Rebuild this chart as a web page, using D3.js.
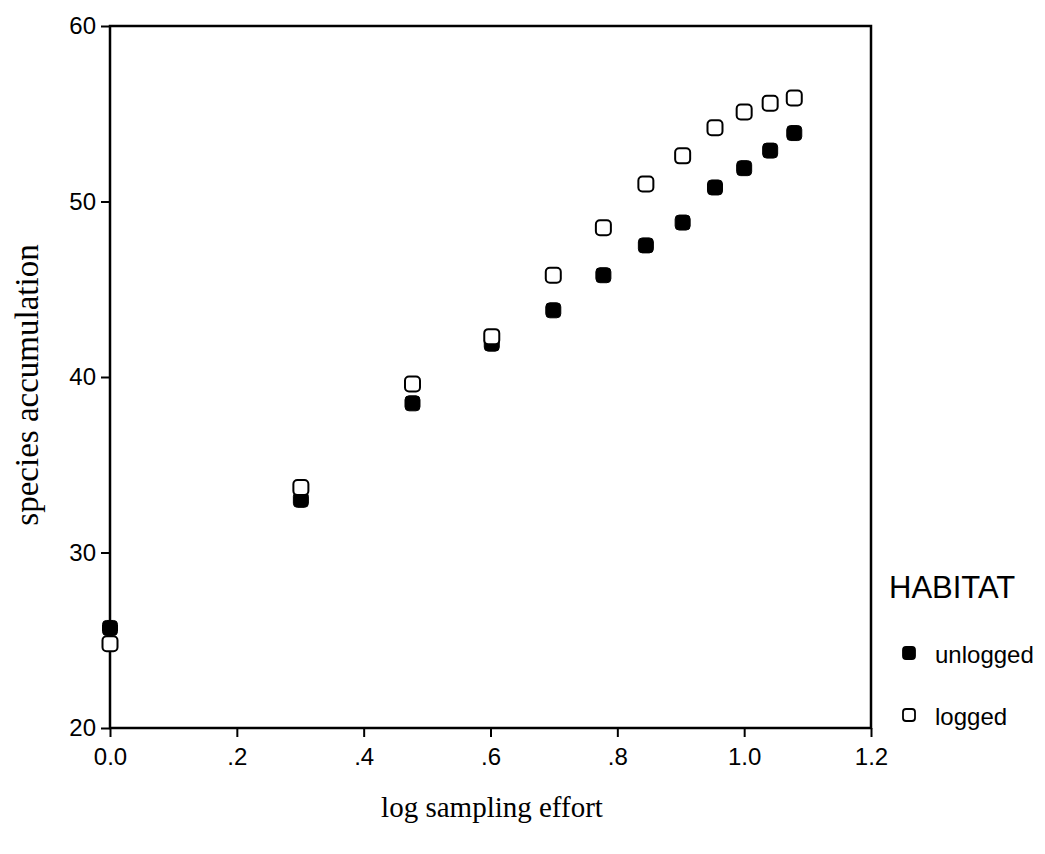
<html>
  <head>
    <script src="https://d3js.org/d3.v7.min.js"></script>
    <style>
      body { margin: 0; background: white; }
    </style>
  </head>
  <body>
    <svg id="chart" width="1045" height="854"></svg>
    <script>
      // log sampling effort (x) and species accumulation per habitat
      const effort = [0, 0.301, 0.477, 0.602, 0.699, 0.778, 0.845, 0.903, 0.954, 1.0, 1.041, 1.079];
      const unlogged = [25.7, 33.0, 38.5, 41.9, 43.8, 45.8, 47.5, 48.8, 50.8, 51.9, 52.9, 53.9];
      const logged = [24.8, 33.7, 39.6, 42.3, 45.8, 48.5, 51.0, 52.6, 54.2, 55.1, 55.6, 55.9];
      const xTicks = [0, 0.2, 0.4, 0.6, 0.8, 1.0, 1.2];
      const xTickLabels = ["0.0", ".2", ".4", ".6", ".8", "1.0", "1.2"];
      const yTicks = [20, 30, 40, 50, 60];
      const habitats = ["unlogged", "logged"];

      const svg = d3.select("#chart");
      const plotL = 110, plotR = 871, plotT = 26, plotB = 728;

      const x = d3.scaleLinear().domain([0, 1.2]).range([plotL, plotR]);
      const y = d3.scaleLinear().domain([20, 60]).range([plotB, plotT]);

      // frame
      svg.append("rect")
        .attr("x", plotL).attr("y", plotT)
        .attr("width", plotR - plotL).attr("height", plotB - plotT)
        .style("fill", "none").style("stroke", "black").style("stroke-width", 2.5);

      // axes
      const xAxis = d3.axisBottom(x).tickValues(xTicks)
        .tickFormat((d, i) => xTickLabels[i]).tickSize(9).tickPadding(11);
      const yAxis = d3.axisLeft(y).tickValues(yTicks).tickSize(9).tickPadding(5);

      const gx = svg.append("g").attr("transform", `translate(0,${plotB})`).call(xAxis);
      const gy = svg.append("g").attr("transform", `translate(${plotL},0)`).call(yAxis);

      [gx, gy].forEach((g) => {
        g.select(".domain").remove();
        g.selectAll("line").style("stroke", "black").style("stroke-width", 2);
        g.selectAll("text")
          .style("font-family", "Liberation Sans, Arial, sans-serif")
          .style("font-size", "24px")
          .style("fill", "black");
      });
      gy.selectAll("text").attr("dy", "0.33em");

      // axis titles
      svg.append("text")
        .attr("x", 492).attr("y", 817)
        .attr("text-anchor", "middle")
        .style("font-family", "Liberation Serif, Times New Roman, serif")
        .style("font-size", "29px")
        .text("log sampling effort");

      svg.append("text")
        .attr("transform", `translate(38,385) rotate(-90)`)
        .attr("text-anchor", "middle")
        .style("font-family", "Liberation Serif, Times New Roman, serif")
        .style("font-size", "33px")
        .text("species accumulation");

      // markers
      const size = 15;
      function drawSeries(vals, filled) {
        svg.append("g").selectAll("rect")
          .data(vals)
          .join("rect")
          .attr("x", (d, i) => x(effort[i]) - size / 2)
          .attr("y", (d) => y(d) - size / 2)
          .attr("width", size).attr("height", size)
          .attr("rx", 4)
          .style("fill", filled ? "black" : "white")
          .style("stroke", "black")
          .style("stroke-width", filled ? 1 : 2);
      }
      drawSeries(unlogged, true);
      drawSeries(logged, false);

      // legend
      svg.append("text")
        .attr("x", 889).attr("y", 598)
        .style("font-family", "Liberation Sans, Arial, sans-serif")
        .style("font-size", "31px")
        .text("HABITAT");

      const leg = svg.append("g").selectAll("g")
        .data(habitats)
        .join("g")
        .attr("transform", (d, i) => `translate(909,${653 + i * 62})`);
      leg.append("rect")
        .attr("x", -6).attr("y", -6).attr("width", 12).attr("height", 12).attr("rx", 3)
        .style("fill", (d, i) => (i === 0 ? "black" : "white"))
        .style("stroke", "black").style("stroke-width", 1.8);
      leg.append("text")
        .attr("x", 26).attr("y", 10)
        .style("font-family", "Liberation Sans, Arial, sans-serif")
        .style("font-size", "24px")
        .text((d) => d);
    </script>
  </body>
</html>
